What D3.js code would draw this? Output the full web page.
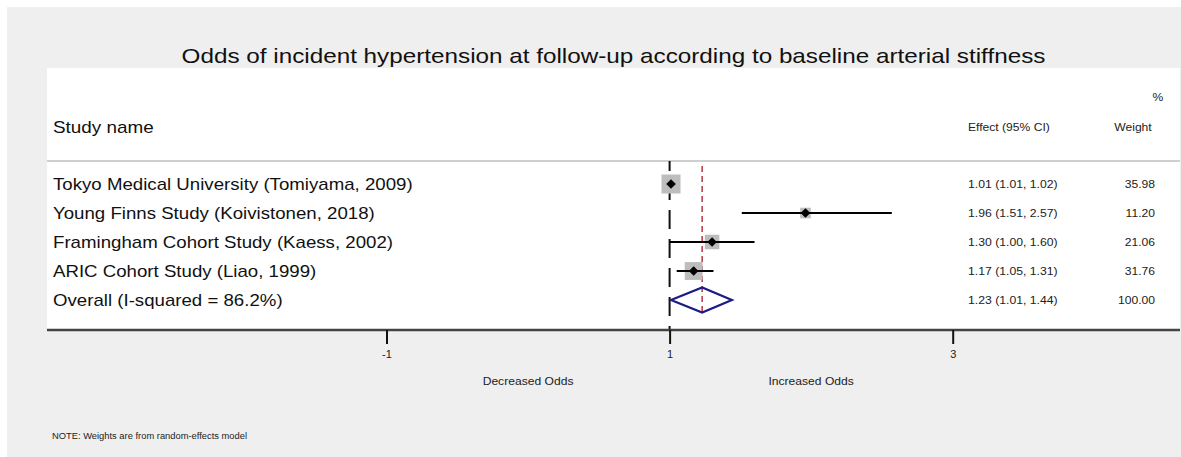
<!DOCTYPE html>
<html>
<head>
<meta charset="utf-8">
<script src="https://cdn.jsdelivr.net/npm/d3@7"></script>
<style>
  html, body { margin: 0; padding: 0; background: #ffffff; }
  svg { display: block; font-family: "Liberation Sans", Arial, sans-serif; }
</style>
</head>
<body>
<svg id="chart" width="1181" height="457"></svg>
<script>
// Study-level estimates (odds ratios with 95% CI) and random-effects weights
const studies = [
  "Tokyo Medical University (Tomiyama, 2009)",
  "Young Finns Study (Koivistonen, 2018)",
  "Framingham Cohort Study (Kaess, 2002)",
  "ARIC Cohort Study (Liao, 1999)"
];
const effect = [1.01, 1.96, 1.30, 1.17];
const lower  = [1.01, 1.51, 1.00, 1.05];
const upper  = [1.02, 2.57, 1.60, 1.31];
const weight = [35.98, 11.20, 21.06, 31.76];

// Pooled estimate
const overallLabel  = "Overall (I-squared = 86.2%)";
const overallEffect = 1.23;
const overallLower  = 1.01;
const overallUpper  = 1.44;
const overallWeight = 100.00;

// Axis
const xTicks = [-1, 1, 3];
const nullValue = 1;
const sideLabels = [
  { at: 0, text: "Decreased Odds" },
  { at: 2, text: "Increased Odds" }
];

const title = "Odds of incident hypertension at follow-up according to baseline arterial stiffness";
const note = "NOTE: Weights are from random-effects model";

const svg = d3.select("#chart");
const W = 1181, H = 457;

// layout
const panel = { x: 7, y: 7, w: W - 7, h: H - 7 };
const plot  = { left: 47, right: 1180, top: 68, bottom: 330 };
const headerLine = 161;
const colText = 53, colEffect = 968, colWeight = 1155;

const x = d3.scaleLinear().domain([-1, 3]).range([386.5, 952.7]);
const rows = d3.range(studies.length + 1);
const y = d3.scalePoint().domain(rows).range([184, 300]);
const boxSize = d3.scaleSqrt().domain([0, d3.max(weight)]).range([0, 19]);
const fmt2 = d3.format(".2f");

// the Stata-style lettering is slightly wide; stretch text horizontally
function stretch(sel, k) {
  sel.each(function () {
    const len = this.getComputedTextLength();
    d3.select(this).attr("textLength", len * k).attr("lengthAdjust", "spacingAndGlyphs");
  });
}

// background panel and plot area
svg.append("rect").attr("x", panel.x).attr("y", panel.y)
  .attr("width", panel.w).attr("height", panel.h).attr("fill", "#efefef");
svg.append("rect").attr("x", plot.left).attr("y", plot.top)
  .attr("width", plot.right - plot.left).attr("height", plot.bottom - plot.top)
  .attr("fill", "#ffffff");

// title
svg.append("text").attr("x", 613.5).attr("y", 63)
  .attr("text-anchor", "middle").attr("font-size", 21).attr("fill", "#111")
  .text(title).call(stretch, 1.155);

// column headers
svg.append("text").attr("x", colText).attr("y", 133)
  .attr("font-size", 17).attr("fill", "#111").text("Study name").call(stretch, 1.11);
svg.append("text").attr("x", colEffect).attr("y", 131)
  .attr("font-size", 11).attr("fill", "#222").text("Effect (95% CI)").call(stretch, 1.1);
svg.append("text").attr("x", 1133).attr("y", 131).attr("text-anchor", "middle")
  .attr("font-size", 11).attr("fill", "#222").text("Weight").call(stretch, 1.1);
svg.append("text").attr("x", 1158).attr("y", 101).attr("text-anchor", "middle")
  .attr("font-size", 11).attr("fill", "#222").text("%").call(stretch, 1.1);

// header separator
svg.append("line").attr("x1", plot.left).attr("x2", plot.right)
  .attr("y1", headerLine).attr("y2", headerLine)
  .attr("stroke", "#cfcfcf").attr("stroke-width", 2);

// null line (OR = 1)
svg.append("line").attr("x1", x(nullValue)).attr("x2", x(nullValue))
  .attr("y1", headerLine).attr("y2", plot.bottom)
  .attr("stroke", "#111").attr("stroke-width", 2)
  .attr("stroke-dasharray", "19,10").attr("stroke-dashoffset", 9);

// pooled-estimate line
svg.append("line").attr("x1", x(overallEffect)).attr("x2", x(overallEffect))
  .attr("y1", 166).attr("y2", y(studies.length) + 13)
  .attr("stroke", "#b5373f").attr("stroke-width", 1.5)
  .attr("stroke-dasharray", "6,4");

const data = studies.map((s, i) => ({
  label: s, effect: effect[i], lower: lower[i], upper: upper[i], weight: weight[i], row: i
}));

// weight boxes
svg.append("g").selectAll("rect").data(data).join("rect")
  .attr("x", d => x(d.effect) - boxSize(d.weight) / 2)
  .attr("y", d => y(d.row) - boxSize(d.weight) / 2)
  .attr("width", d => boxSize(d.weight))
  .attr("height", d => boxSize(d.weight))
  .attr("fill", "#bdbdbd");

// confidence intervals
svg.append("g").selectAll("line").data(data).join("line")
  .attr("x1", d => x(d.lower)).attr("x2", d => x(d.upper))
  .attr("y1", d => y(d.row)).attr("y2", d => y(d.row))
  .attr("stroke", "#000").attr("stroke-width", 2.2);

// point estimates
const marker = d3.symbol().type(d3.symbolSquare).size(46);
svg.append("g").selectAll("path").data(data).join("path")
  .attr("d", marker)
  .attr("transform", d => `translate(${x(d.effect)},${y(d.row)}) rotate(45)`)
  .attr("fill", "#000");

// pooled diamond
const oy = y(studies.length), oh = 12.5;
svg.append("path")
  .attr("d", d3.line()([
    [x(overallLower), oy], [x(overallEffect), oy - oh],
    [x(overallUpper), oy], [x(overallEffect), oy + oh]
  ]) + "Z")
  .attr("fill", "none").attr("stroke", "#1c1c84").attr("stroke-width", 2.2)
  .attr("stroke-linejoin", "miter");

// row labels and value columns
const allRows = data.concat([{
  label: overallLabel, effect: overallEffect, lower: overallLower,
  upper: overallUpper, weight: overallWeight, row: studies.length
}]);
const rowText = svg.append("g");
rowText.selectAll("text.lbl").data(allRows).join("text").attr("class", "lbl")
  .attr("x", colText).attr("y", d => y(d.row)).attr("dy", "0.36em")
  .attr("font-size", 17).attr("fill", "#111").text(d => d.label)
  .call(stretch, 1.097);
rowText.selectAll("text.eff").data(allRows).join("text").attr("class", "eff")
  .attr("x", colEffect).attr("y", d => y(d.row)).attr("dy", "0.36em")
  .attr("font-size", 11).attr("fill", "#222")
  .text(d => `${fmt2(d.effect)} (${fmt2(d.lower)}, ${fmt2(d.upper)})`)
  .call(stretch, 1.11);
rowText.selectAll("text.wt").data(allRows).join("text").attr("class", "wt")
  .attr("x", colWeight).attr("y", d => y(d.row)).attr("dy", "0.36em")
  .attr("text-anchor", "end").attr("font-size", 11).attr("fill", "#222")
  .text(d => fmt2(d.weight))
  .call(stretch, 1.1);

// x axis
svg.append("line").attr("x1", plot.left).attr("x2", plot.right)
  .attr("y1", plot.bottom).attr("y2", plot.bottom)
  .attr("stroke", "#444").attr("stroke-width", 2.5);
const axis = svg.append("g").attr("transform", `translate(0,${plot.bottom})`)
  .call(d3.axisBottom(x).tickValues(xTicks).tickSize(14).tickPadding(6).tickFormat(d => String(d)));
axis.select(".domain").remove();
axis.selectAll(".tick line").attr("stroke", "#111").attr("stroke-width", 2);
axis.selectAll(".tick text").attr("font-size", 11).attr("fill", "#222")
  .attr("font-family", "Liberation Sans, Arial, sans-serif");

svg.append("g").selectAll("text").data(sideLabels).join("text")
  .attr("x", d => x(d.at)).attr("y", 385).attr("text-anchor", "middle")
  .attr("font-size", 11).attr("fill", "#222").text(d => d.text)
  .call(stretch, 1.1);

// footnote
svg.append("text").attr("x", 52).attr("y", 439)
  .attr("font-size", 8.5).attr("fill", "#222").text(note)
  .call(stretch, 1.1);
</script>
</body>
</html>
